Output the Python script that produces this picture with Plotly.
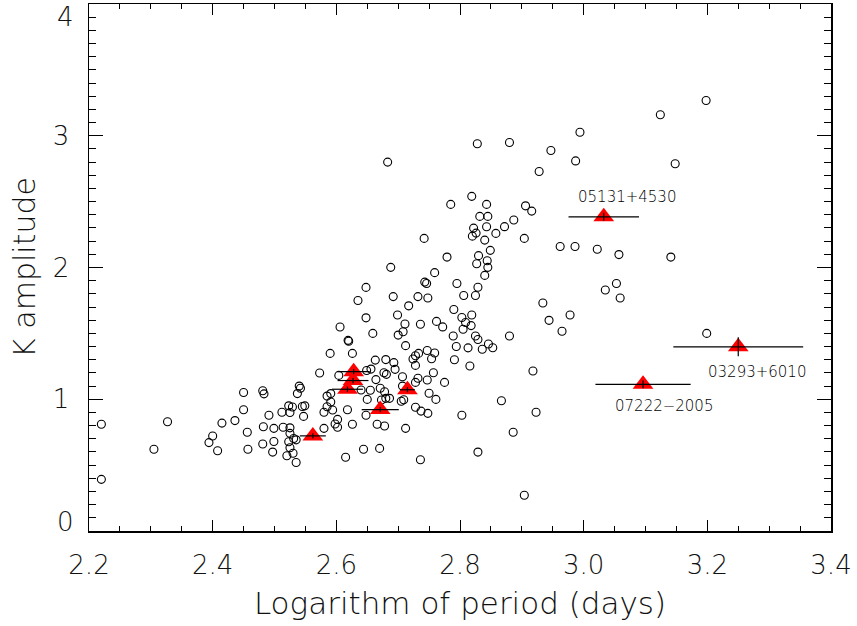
import plotly.graph_objects as go

# Field stars: log period (days) and K amplitude (open circles)
circ_logP = [
    2.220, 2.220, 2.305, 2.327, 2.394, 2.400, 2.408, 2.415, 2.436, 2.450,
    2.450, 2.456, 2.457, 2.481, 2.483, 2.481, 2.482, 2.491, 2.497, 2.499,
    2.499, 2.512, 2.514, 2.523, 2.525, 2.525, 2.525, 2.523, 2.525, 2.520,
    2.529, 2.531, 2.535, 2.530, 2.535, 2.537, 2.540, 2.542, 2.545, 2.549,
    2.547, 2.573, 2.580, 2.580, 2.585, 2.585, 2.591, 2.591, 2.590, 2.594,
    2.598, 2.602, 2.602, 2.604, 2.606, 2.615, 2.618, 2.619, 2.620, 2.626,
    2.626, 2.635, 2.648, 2.648, 2.659, 2.649, 2.656, 2.663, 2.664, 2.655,
    2.640, 2.650, 2.648, 2.644, 2.666, 2.670, 2.671, 2.688, 2.692, 2.743,
    2.746, 2.732, 2.748, 2.717, 2.699, 2.711, 2.736, 2.708, 2.700, 2.712,
    2.747, 2.733, 2.728, 2.680, 2.789, 2.794, 2.813, 2.759, 2.754, 2.724,
    2.728, 2.791, 2.816, 2.693, 2.695, 2.677, 2.681, 2.707, 2.732, 2.757,
    2.728, 2.747, 2.775, 2.678, 2.707, 2.680, 2.686, 2.673, 2.750, 2.761,
    2.709, 2.705, 2.728, 2.737, 2.748, 2.803, 2.678, 2.712, 2.825, 2.829,
    2.836, 2.846, 2.853, 2.880, 2.965, 2.918, 2.867, 2.923, 2.886, 2.829,
    2.904, 2.736, 2.683, 2.828, 2.880, 2.994, 2.947, 2.987, 2.928, 2.785,
    2.819, 2.843, 2.832, 2.845, 2.906, 2.916, 2.887, 2.872, 2.843, 2.822,
    2.826, 2.820, 2.858, 2.840, 2.904, 2.742, 2.849, 2.830, 2.779, 2.844,
    2.827, 2.845, 2.840, 2.759, 2.795, 2.829, 2.825, 2.806, 2.790, 2.803,
    2.819, 2.809, 2.818, 2.805, 2.762, 2.772, 2.934, 2.944, 2.978, 2.962,
    2.986, 3.022, 3.057, 3.053, 3.035, 3.059, 3.198, 3.124, 3.148, 3.141,
    3.199,
]
circ_amp = [
    0.810, 0.392, 0.620, 0.829, 0.671, 0.721, 0.609, 0.819, 0.838, 1.051,
    0.920, 0.749, 0.620, 1.064, 1.041, 0.660, 0.791, 0.879, 0.599, 0.779,
    0.679, 0.901, 0.788, 0.950, 0.899, 0.783, 0.741, 0.677, 0.632, 0.571,
    0.941, 0.702, 0.692, 0.590, 0.520, 1.043, 1.100, 1.083, 0.945, 0.950,
    0.870, 1.199, 0.779, 0.901, 0.943, 1.024, 1.043, 0.979, 1.348, 0.918,
    0.812, 0.787, 0.847, 1.181, 1.548, 0.560, 0.920, 1.447, 1.440, 1.348,
    0.810, 1.749, 1.849, 1.618, 1.500, 1.218, 1.229, 1.297, 1.149, 1.068,
    1.070, 0.999, 0.879, 0.621, 0.810, 0.627, 1.083, 2.001, 1.779, 1.889,
    1.878, 1.779, 1.768, 1.709, 1.639, 1.571, 1.569, 1.512, 1.487, 1.407,
    1.370, 1.348, 1.330, 1.301, 1.480, 1.400, 1.390, 1.351, 1.307, 1.305,
    1.257, 1.300, 1.252, 1.278, 1.227, 1.201, 1.189, 1.171, 1.159, 1.201,
    1.128, 1.146, 1.128, 1.057, 1.100, 1.007, 1.007, 0.994, 1.045, 0.999,
    0.996, 0.985, 0.939, 0.910, 0.893, 0.879, 0.797, 0.779, 1.480, 1.453,
    1.379, 1.419, 1.391, 1.480, 1.516, 1.214, 0.989, 0.901, 0.749, 0.599,
    0.271, 0.541, 2.800, 2.939, 2.949, 3.027, 2.888, 2.809, 2.729, 2.479,
    2.540, 2.479, 2.388, 2.388, 2.468, 2.428, 2.360, 2.310, 2.309, 2.299,
    2.261, 2.238, 2.259, 2.208, 2.221, 2.221, 2.130, 2.090, 2.079, 2.051,
    2.028, 2.001, 1.940, 1.961, 1.879, 1.850, 1.788, 1.788, 1.681, 1.620,
    1.639, 1.582, 1.559, 1.531, 1.591, 1.549, 1.730, 1.599, 1.639, 2.159,
    2.159, 2.138, 2.098, 1.879, 1.829, 1.769, 3.268, 3.159, 2.787, 2.079,
    1.500,
]

# Highlighted stars (red triangles) with error bars
tri_logP = [2.562, 2.628, 2.627, 2.618, 2.671, 2.715, 3.0325, 3.096, 3.250]
tri_amp = [0.722, 1.209, 1.142, 1.076, 0.922, 1.072, 2.385, 1.113, 1.398]
tri_logP_err = [0.021, 0.026, 0.025, 0.025, 0.030, 0.012, 0.057, 0.077, 0.105]
tri_amp_err = [0.02, 0.02, 0.02, 0.02, 0.02, 0.02, 0.03, 0.03, 0.072]

# Star labels
label_text = ["05131+4530", "07222\u22122005", "03293+6010"]
label_logP = [3.070, 3.130, 3.280]
label_amp = [2.533, 0.948, 1.208]

x_tickvals = [2.2, 2.4, 2.6, 2.8, 3.0, 3.2, 3.4]
x_ticktext = ["2.2", "2.4", "2.6", "2.8", "3.0", "3.2", "3.4"]
y_tickvals = [0, 1, 2, 3, 4]
y_ticktext = ["0", "1", "2", "3", "4"]
# end labels drawn nudged inward (as in the original), others as tick labels
y_inner_text = ["", "1", "2", "3", ""]

FONT = "DejaVu Sans ExtraLight, DejaVu Sans"
W = 200
TXT = "#111"

fig = go.Figure()
fig.add_trace(go.Scatter(
    x=circ_logP, y=circ_amp, mode="markers",
    marker=dict(symbol="circle-open", size=8, color="black", line=dict(width=1.1, color="black")),
    showlegend=False, hoverinfo="skip",
))
fig.add_trace(go.Scatter(
    x=tri_logP, y=tri_amp, mode="markers",
    marker=dict(symbol="triangle-up", size=18, color="#ff0000", line=dict(width=0)),
    showlegend=False, hoverinfo="skip",
))
# error bars drawn on top of triangles
fig.add_trace(go.Scatter(
    x=tri_logP, y=tri_amp, mode="markers",
    marker=dict(size=2, color="rgba(0,0,0,0)"),
    error_x=dict(type="data", array=tri_logP_err, visible=True, color="black", thickness=1.2, width=0),
    error_y=dict(type="data", array=tri_amp_err, visible=True, color="black", thickness=1.2, width=0),
    showlegend=False, hoverinfo="skip",
))

for t, xx, yy in zip(label_text, label_logP, label_amp):
    fig.add_annotation(x=xx, y=yy, text=t, showarrow=False,
                       font=dict(family=FONT, size=15, color="black", weight=W))

# y end labels 0 and 4, nudged inward
for v, t, shift in [(y_tickvals[0], y_ticktext[0], 9), (y_tickvals[-1], y_ticktext[-1], -13)]:
    fig.add_annotation(x=0, xref="paper", y=v, yref="y", text=t, showarrow=False,
                       xanchor="right", yanchor="middle", xshift=-13, yshift=shift,
                       font=dict(family=FONT, size=26, color=TXT, weight=W))

axis_common = dict(
    showgrid=False, zeroline=False, showline=True, linecolor="black", linewidth=1.5,
    mirror="ticks", ticks="inside", tickcolor="black", tickwidth=1, automargin=False,
    tickfont=dict(family=FONT, size=26, color=TXT, weight=W),
)

fig.update_xaxes(
    range=[2.2, 3.4], tickvals=x_tickvals, ticktext=x_ticktext, ticklen=11,
    minor=dict(dtick=0.05, ticklen=5, ticks="inside", tickcolor="black", tickwidth=1),
    ticklabelstandoff=10,
    title=dict(text="Logarithm of period (days)", standoff=13,
               font=dict(family=FONT, size=31, color=TXT, weight=W)),
    **axis_common,
)
fig.update_yaxes(
    range=[0, 4], tickvals=y_tickvals, ticktext=y_inner_text, ticklen=14,
    minor=dict(dtick=0.1, ticklen=7, ticks="inside", tickcolor="black", tickwidth=1),
    ticklabelstandoff=13,
    title=dict(text="K amplitude", standoff=8,
               font=dict(family=FONT, size=30, color=TXT, weight=W)),
    **axis_common,
)

fig.update_layout(
    width=857, height=626,
    margin=dict(l=89, r=26, t=4, b=95),
    paper_bgcolor="white", plot_bgcolor="white",
)

# remove the page's default body margin so the figure sits at the window origin
fig.write_html("out.html",
               config={"displayModeBar": False, "staticPlot": True},
               post_script="document.body.style.margin='0';document.body.style.overflow='hidden';")
